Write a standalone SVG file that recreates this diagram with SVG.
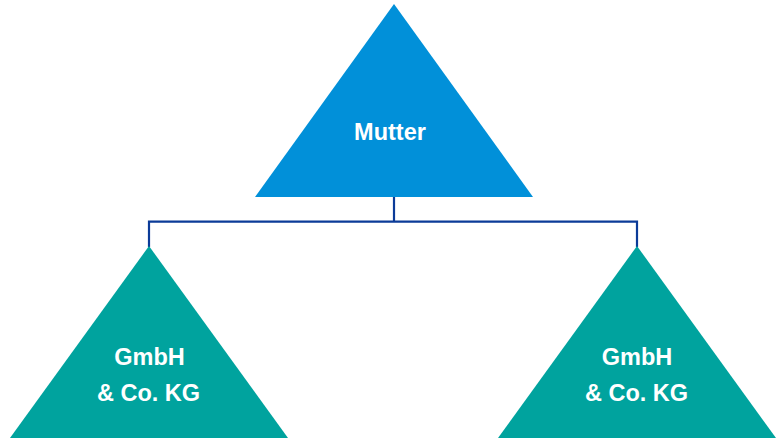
<svg xmlns="http://www.w3.org/2000/svg" width="777" height="447" viewBox="0 0 777 447">
  <style>
    .parent { fill: #0190d9; }
    .child { fill: #00a39e; }
    .label { fill: #ffffff; font-family: "Liberation Sans", Arial, sans-serif; font-weight: bold; font-size: 23.5px; text-anchor: middle; }
    .link { fill: none; stroke: #0b3b98; stroke-width: 2.2; }
  </style>
  <rect width="777" height="447" fill="#ffffff"/>

  <g id="connectors">
    <path class="link" d="M394 197 V221.7"/>
    <path class="link" d="M149 247 V221.7 H637 V247"/>
  </g>

  <g id="mutter">
    <polygon class="parent" points="394,4 533,197 255,197"/>
    <text class="label" x="390" y="140">Mutter</text>
  </g>

  <g id="kg-left">
    <polygon class="child" points="149,246 288,438 10,438"/>
    <text class="label" x="149.5" y="365">GmbH</text>
    <text class="label" x="148.5" y="401">&amp; Co. KG</text>
  </g>

  <g id="kg-right">
    <polygon class="child" points="637,246 776,438 498,438"/>
    <text class="label" x="637" y="365">GmbH</text>
    <text class="label" x="636.5" y="401">&amp; Co. KG</text>
  </g>
</svg>
